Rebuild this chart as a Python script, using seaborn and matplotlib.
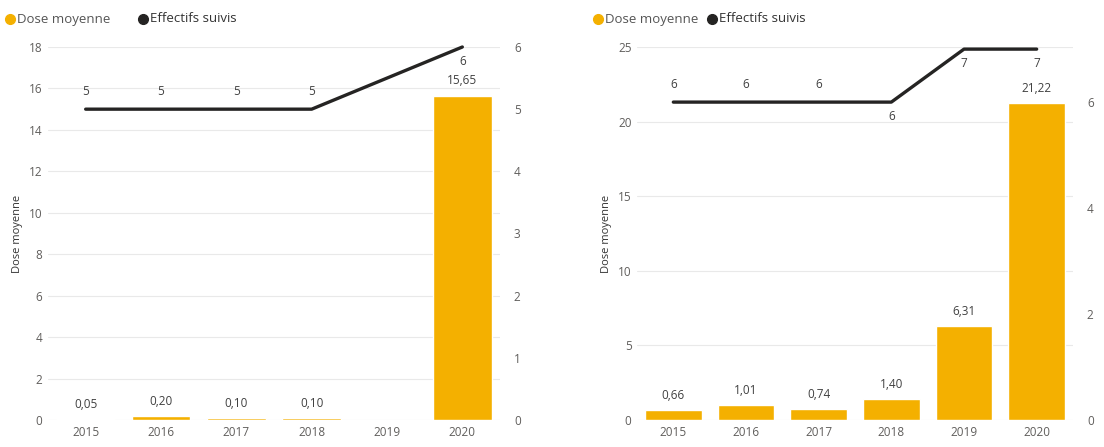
import numpy as np
import pandas as pd
import matplotlib
matplotlib.use("Agg")
import matplotlib.pyplot as plt
from matplotlib.lines import Line2D
import seaborn as sns

# --- data -------------------------------------------------------------
years = ["2015", "2016", "2017", "2018", "2019", "2020"]

dose_a = [0.05, 0.20, 0.10, 0.10, np.nan, 15.65]
effectifs_a = [5, 5, 5, 5, np.nan, 6]

dose_b = [0.66, 1.01, 0.74, 1.40, 6.31, 21.22]
effectifs_b = [6, 6, 6, 6, 7, 7]

# label placement for the headcount line: +1 above, -1 below
eff_pos_a = [1, 1, 1, 1, 0, -1]
eff_pos_b = [1, 1, 1, -1, -1, -1]

BAR = "#F4B000"
LINE = "#252423"
TXT = "#605E5C"
LBL = "#404040"
GRID = "#E9E9E9"

sns.set_theme(style="white")
plt.rcParams["font.family"] = ["Open Sans", "DejaVu Sans"]

fig = plt.figure(figsize=(11.04, 4.47), dpi=100)


def fr(v):
    return f"{v:.2f}".replace(".", ",")


def panel(rect, dose, eff, eff_pos, ylim, yticks, y2lim, y2ticks, leg_x, leg_gap):
    ax = fig.add_axes(rect)
    df = pd.DataFrame({"year": years, "dose": dose})
    sns.barplot(data=df, x="year", y="dose", order=years, ax=ax,
                color=BAR, width=0.78, saturation=1, zorder=2)
    ax.set_ylim(*ylim)
    ax.set_yticks(yticks)
    ax.set_xlim(-0.5, len(years) - 0.5)
    ax.grid(axis="y", color=GRID, lw=0.8, zorder=0)
    ax.set_axisbelow(True)
    for s in ax.spines.values():
        s.set_visible(False)
    ax.tick_params(axis="both", length=0, labelsize=8.5, labelcolor=TXT, pad=4)
    ax.set_xlabel("")
    ax.set_ylabel("Dose moyenne", fontsize=8, color="#333333", labelpad=4)
    for i, v in enumerate(dose):
        if np.isnan(v):
            continue
        ax.annotate(fr(v), (i, v), xytext=(0, 6), textcoords="offset points",
                    ha="center", va="bottom", fontsize=8.5, color=LBL)

    ax2 = ax.twinx()
    idx = [i for i, v in enumerate(eff) if not np.isnan(v)]
    vals = [eff[i] for i in idx]
    sns.lineplot(x=idx, y=vals, ax=ax2, color=LINE, lw=2.4, zorder=3)
    for ln in ax2.lines:
        ln.set_clip_on(False)
    ax2.set_ylim(*y2lim)
    ax2.set_yticks(y2ticks)
    ax2.set_xlim(-0.5, len(years) - 0.5)
    for s in ax2.spines.values():
        s.set_visible(False)
    ax2.tick_params(axis="y", length=0, labelsize=8.5, labelcolor=TXT, pad=10)
    ax2.set_ylabel("")
    ax2.grid(False)
    for i, v in enumerate(eff):
        if np.isnan(v):
            continue
        up = eff_pos[i] > 0
        ax2.annotate(f"{int(v)}", (i, v), xytext=(0, 8 if up else -6),
                     textcoords="offset points", ha="center",
                     va="bottom" if up else "top", fontsize=8.5, color=LBL)

    # legend row above the plot
    ly = 1 - 19 / 447
    fig.add_artist(Line2D([leg_x / 1104], [ly], marker="o", ms=7, color=BAR,
                          lw=0, transform=fig.transFigure))
    fig.text((leg_x + 7) / 1104, ly, "Dose moyenne", fontsize=9.5,
             color="#555555", va="center", ha="left")
    x2 = leg_x + leg_gap
    fig.add_artist(Line2D([x2 / 1104], [ly], marker="o", ms=7, color=LINE,
                          lw=0, transform=fig.transFigure))
    fig.text((x2 + 7) / 1104, ly, "Effectifs suivis", fontsize=9.5,
             color="#333333", va="center", ha="left")
    return ax, ax2


bottom = 1 - 420 / 447
height = (420 - 47) / 447

panel([48 / 1104, bottom, 452 / 1104, height], dose_a, effectifs_a, eff_pos_a,
      (0, 18), range(0, 19, 2), (0, 6), range(0, 7, 1), 10, 133)
panel([637 / 1104, bottom, 436 / 1104, height], dose_b, effectifs_b, eff_pos_b,
      (0, 25), range(0, 26, 5), (0, 7.04), range(0, 7, 2), 598, 114)

fig.savefig("out.png", dpi=100, facecolor="white")
